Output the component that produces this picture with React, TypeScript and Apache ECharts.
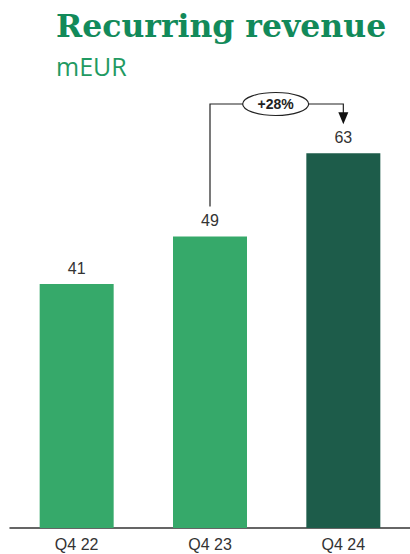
import React, { useEffect, useRef } from "react";
import * as echarts from "echarts";

const categories = ["Q4 22", "Q4 23", "Q4 24"];
const values = [41, 49, 63];
const barColors = ["#36a96a", "#36a96a", "#1d5c4a"];
const growthLabel = "+28%";
const titleText = "Recurring revenue";
const subtitleText = "mEUR";

export default function App() {
  const ref = useRef<HTMLDivElement>(null);
  useEffect(() => {
    const chart = echarts.init(ref.current!, null, { renderer: "svg" });
    chart.setOption({
      animation: false,
      backgroundColor: "#ffffff",
      title: [
        {
          text: titleText,
          left: 56,
          top: 9,
          padding: 0,
          textStyle: { fontFamily: "DejaVu Serif", fontWeight: "bold", fontSize: 31.5, color: "#128a5a" },
        },
        {
          text: subtitleText,
          left: 56,
          top: 53,
          padding: 0,
          textStyle: { fontFamily: "Open Sans", fontWeight: "normal", fontSize: 25, color: "#1f9a62" },
        },
      ],
      grid: { left: 10, right: 0, top: 111.5, bottom: 26, containLabel: false },
      xAxis: {
        type: "category",
        data: categories,
        axisLine: { show: true, lineStyle: { color: "#333", width: 1.5 } },
        axisTick: { show: false },
        axisLabel: { color: "#333", fontSize: 16, fontFamily: "Liberation Sans", margin: 8 },
      },
      yAxis: { type: "value", min: 0, max: 70, show: false, splitLine: { show: false } },
      series: [
        {
          type: "bar",
          barWidth: 74,
          data: values.map((v, i) => ({ value: v, itemStyle: { color: barColors[i] } })),
          label: { show: true, position: "top", distance: 8, color: "#333", fontSize: 16, fontFamily: "Liberation Sans" },
        },
      ],
    });

    const p1 = chart.convertToPixel({ gridIndex: 0 }, [1, values[1]]);
    const p2 = chart.convertToPixel({ gridIndex: 0 }, [2, values[2]]);
    const lineY = 104;
    const startY = p1[1] - 30;
    const endY = p2[1] - 29;
    const ex = (p1[0] + p2[0]) / 2 - 1;
    chart.setOption({
      graphic: [
        {
          type: "polyline",
          shape: { points: [[p1[0], startY], [p1[0], lineY], [p2[0], lineY], [p2[0], endY - 10]] },
          style: { stroke: "#222", lineWidth: 1.2, fill: null },
          z: 10,
        },
        {
          type: "polygon",
          shape: { points: [[p2[0] - 5, endY - 12], [p2[0] + 5, endY - 12], [p2[0], endY]] },
          style: { fill: "#111" },
          z: 10,
        },
        {
          type: "ellipse",
          shape: { cx: ex, cy: lineY, rx: 33, ry: 11.5 },
          style: { fill: "#fff", stroke: "#222", lineWidth: 1.2 },
          z: 11,
        },
        {
          type: "text",
          x: ex,
          y: lineY,
          style: {
            text: growthLabel,
            align: "center",
            verticalAlign: "middle",
            fontSize: 14,
            fontWeight: "bold",
            fontFamily: "Liberation Sans",
            fill: "#222",
          },
          z: 12,
        },
      ],
    });
    return () => chart.dispose();
  }, []);
  return <div ref={ref} style={{ width: 410, height: 554, position: "absolute", left: 0, top: 0 }} />;
}
